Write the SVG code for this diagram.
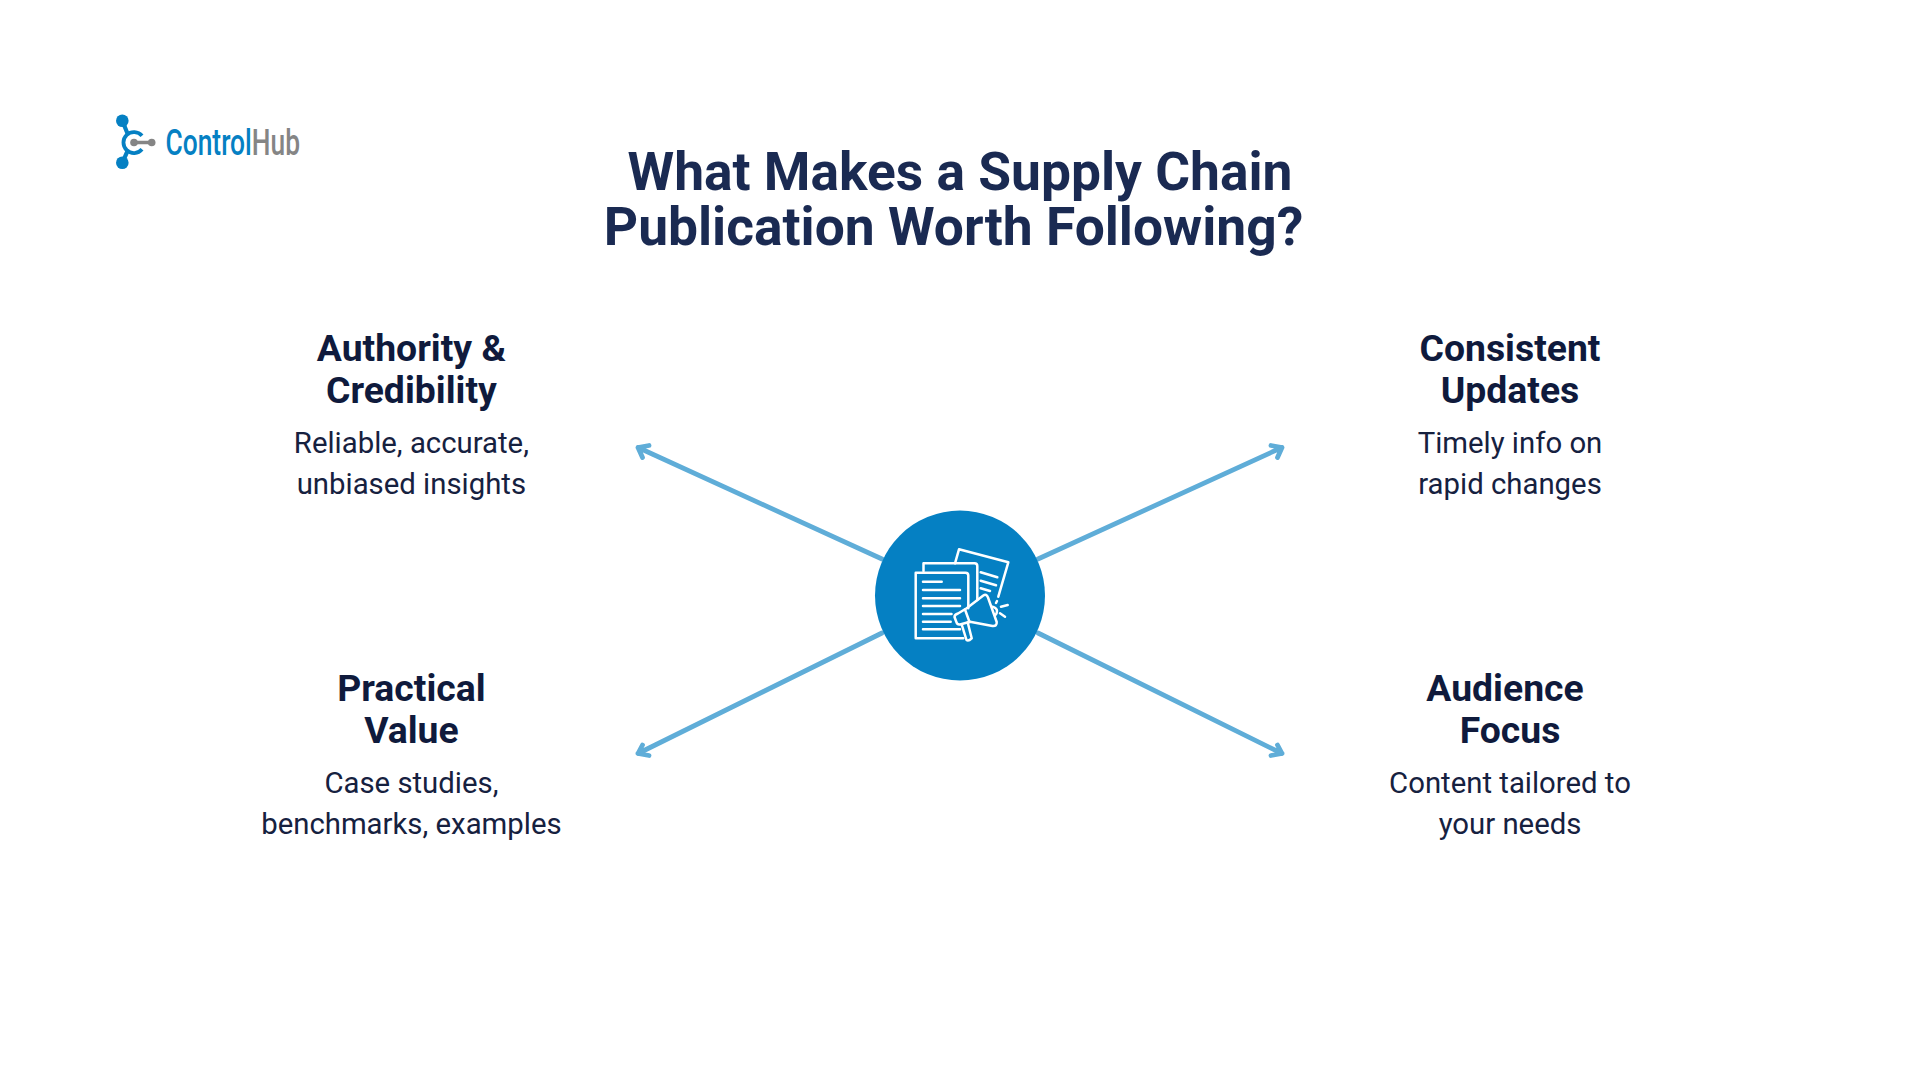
<svg xmlns="http://www.w3.org/2000/svg" width="1920" height="1080" viewBox="0 0 1920 1080">
<style>
text{font-family:Roboto,"Liberation Sans",sans-serif;text-anchor:middle}
.t{font-size:53.33px;font-weight:700;fill:#1a2a52}
.h{font-size:37.33px;font-weight:700;fill:#0f1a3c}
.b{font-size:29.33px;font-weight:400;fill:#16213f}
.c{fill:none;stroke:#5fadd8;stroke-width:4.800;stroke-linecap:round;stroke-linejoin:round}
.i{fill:none;stroke:#fff;stroke-width:2.500;stroke-linecap:round;stroke-linejoin:round}
.lb{fill:#0580c3}
.lg{fill:#858585}
</style>
<rect width="1920" height="1080" fill="#fff"/>
<g id="logo" transform="translate(0 0.800)">
<path d="M122.300 120L128 134M122.300 162L128 149" fill="none" stroke="#0580c3" stroke-width="4.200"/>
<path d="M142 135A10.500 10.500 0 1 0 142 148.500" fill="none" stroke="#0580c3" stroke-width="3.800"/>
<circle class="lb" cx="122.300" cy="120" r="6.300"/><circle class="lb" cx="122.300" cy="162" r="6.300"/>
<path d="M134 141.700H151.700" stroke="#858585" stroke-width="3.500" fill="none"/>
<circle class="lg" cx="134" cy="141.700" r="3.800"/><circle class="lg" cx="151.700" cy="141.700" r="3.800"/>
<text x="165.500" y="154" style="text-anchor:start;font-size:36px;font-weight:500" textLength="134.500" lengthAdjust="spacingAndGlyphs"><tspan fill="#0580c3">Control</tspan><tspan fill="#858585">Hub</tspan></text>
</g>
<g id="title">
<text class="t" x="960" y="190">What Makes a Supply Chain</text>
<text class="t" x="953.500" y="245">Publication Worth Following?</text>
</g>
<g id="connectors">
<path class="c" d="M882 559L638 447.500M649 445.500L638 447.500L642.500 457.500"/>
<path class="c" d="M1038 559L1282 447.500M1271 445.500L1282 447.500L1277.500 457.500"/>
<path class="c" d="M882 633L638 753.500M642.500 745L638 753.500L649 755.500"/>
<path class="c" d="M1038 633L1282 753.500M1277.500 745L1282 753.500L1271 755.500"/>
</g>
<g id="node-center">
<circle cx="960" cy="595.500" r="85" fill="#0580c3"/>
<g class="i">
<path d="M963.300 638.300H915.700V572.700H965.500Q968.300 572.700 968.300 575.500V608.300"/>
<path d="M923.500 571V563.300H974.500Q977.300 563.300 977.300 566.100V600"/>
<path d="M955 563.300L959 549.300L1008.300 562.300L998.300 596.700M997 601L996 603"/>
<path d="M923 581.700H941.700M923 590H960M923 598.300H960M923 606H960M923 614H951.500M923 621.700H950.700M923 629.300H960"/>
<path d="M980.700 572.300L997.300 577.300M980.700 580.700L996 585.300M980.700 588.300L990 591"/>
<path d="M958 613.500L966.700 608.300L983.300 595.500Q986.500 593.500 988 597.500L996.700 622Q997 626.500 992.500 626L970 621.700L960 624.500Q957 625 956 621L954.500 617Q954.500 614.500 958 613.500Z"/>
<path d="M965 609.500L969.500 622"/>
<path d="M961.700 624.500L966.500 640Q968.500 641.500 971.700 638.300L967.700 622.500"/>
<path d="M992.500 606.700Q997 608 997 611Q997 614 995 615.500"/>
<path d="M1001 606.700L1007.700 605M1000 613.300L1005 616.700"/>
</g>
</g>
<g id="node-authority">
<text class="h" x="411.400" y="361">Authority &amp;</text>
<text class="h" x="411.400" y="403">Credibility</text>
<text class="b" x="411.400" y="452.500">Reliable, accurate,</text>
<text class="b" x="411.400" y="494">unbiased insights</text>
</g>
<g id="node-consistent">
<text class="h" x="1510" y="361">Consistent</text>
<text class="h" x="1510" y="403">Updates</text>
<text class="b" x="1510" y="452.500">Timely info on</text>
<text class="b" x="1510" y="494">rapid changes</text>
</g>
<g id="node-practical">
<text class="h" x="411.400" y="701">Practical</text>
<text class="h" x="411.400" y="743">Value</text>
<text class="b" x="411.400" y="792.500">Case studies,</text>
<text class="b" x="411.400" y="834">benchmarks, examples</text>
</g>
<g id="node-audience">
<text class="h" x="1505" y="701">Audience</text>
<text class="h" x="1510" y="743">Focus</text>
<text class="b" x="1510" y="792.500">Content tailored to</text>
<text class="b" x="1510" y="834">your needs</text>
</g>
</svg>
